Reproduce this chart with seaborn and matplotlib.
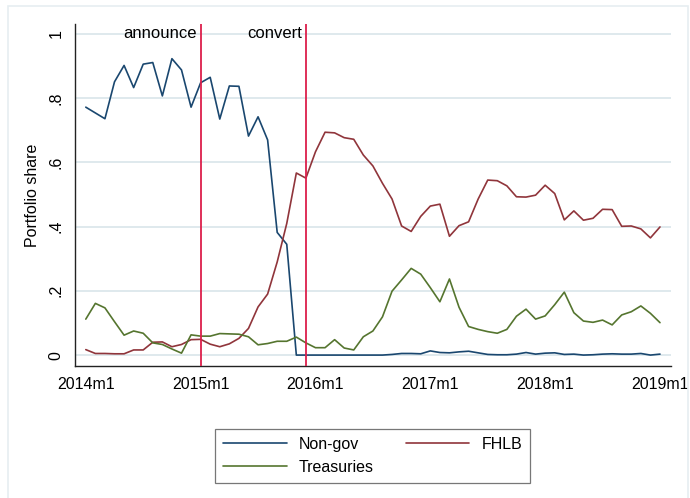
import numpy as np
import pandas as pd
import seaborn as sns
import matplotlib
matplotlib.use("Agg")
import matplotlib.pyplot as plt
from matplotlib.patches import Rectangle

# Monthly portfolio shares, 2014m1 .. 2019m1
months = pd.period_range("2014-01", "2019-01", freq="M")

non_gov = [0.772, 0.754, 0.736, 0.851, 0.902, 0.833, 0.906, 0.911, 0.807, 0.923,
           0.888, 0.772, 0.848, 0.865, 0.735, 0.838, 0.837, 0.682, 0.742, 0.670,
           0.382, 0.345, 0.000, 0.000, 0.000, 0.000, 0.000, 0.000, 0.000, 0.000,
           0.000, 0.000, 0.002, 0.005, 0.005, 0.004, 0.013, 0.008, 0.007, 0.010,
           0.012, 0.007, 0.002, 0.001, 0.001, 0.003, 0.008, 0.003, 0.006, 0.007,
           0.002, 0.003, 0.000, 0.001, 0.003, 0.004, 0.003, 0.003, 0.005, 0.000,
           0.003]

fhlb = [0.017, 0.005, 0.005, 0.004, 0.004, 0.016, 0.016, 0.040, 0.041, 0.026,
        0.033, 0.048, 0.049, 0.034, 0.026, 0.035, 0.052, 0.083, 0.150, 0.190,
        0.290, 0.410, 0.567, 0.551, 0.633, 0.694, 0.692, 0.677, 0.672, 0.623,
        0.589, 0.535, 0.486, 0.402, 0.385, 0.432, 0.464, 0.470, 0.370, 0.403,
        0.415, 0.486, 0.545, 0.543, 0.527, 0.493, 0.492, 0.498, 0.529, 0.503,
        0.421, 0.449, 0.420, 0.426, 0.454, 0.453, 0.401, 0.402, 0.393, 0.365,
        0.399]

treasuries = [0.112, 0.161, 0.147, 0.104, 0.062, 0.075, 0.068, 0.038, 0.033, 0.019,
              0.006, 0.063, 0.059, 0.059, 0.067, 0.066, 0.065, 0.057, 0.032, 0.036,
              0.043, 0.043, 0.056, 0.038, 0.023, 0.023, 0.048, 0.022, 0.016, 0.057,
              0.075, 0.119, 0.199, 0.234, 0.270, 0.252, 0.210, 0.166, 0.237, 0.149,
              0.089, 0.080, 0.073, 0.068, 0.080, 0.121, 0.143, 0.112, 0.122, 0.157,
              0.196, 0.132, 0.106, 0.102, 0.109, 0.094, 0.125, 0.135, 0.153, 0.130,
              0.101]

series_names = ["Non-gov", "FHLB", "Treasuries"]
series_colors = ["#1a476f", "#90353b", "#55752f"]

# Event dates marked with vertical lines
events = {"announce": pd.Period("2015-01", freq="M"),
          "convert": pd.Period("2015-12", freq="M")}

y_ticks = [0, 0.2, 0.4, 0.6, 0.8, 1.0]
y_tick_labels = ["0", ".2", ".4", ".6", ".8", "1"]

# month index relative to the first month
t = np.array([(m - months[0]).n for m in months])
x_ticks = [i for i, m in zip(t, months) if m.month == 1]
x_tick_labels = [f"{m.year}m{m.month}" for m in months if m.month == 1]

df = pd.DataFrame({
    "t": np.tile(t, 3),
    "share": np.concatenate([non_gov, fhlb, treasuries]),
    "series": np.repeat(series_names, len(t)),
})

sns.set_style("white")
plt.rcParams["font.family"] = ["Liberation Sans", "DejaVu Sans"]
plt.rcParams["font.size"] = 11.5
plt.rcParams["text.color"] = "black"
plt.rcParams["axes.labelcolor"] = "black"

fig = plt.figure(figsize=(6.9, 4.98), dpi=100)
ax = fig.add_axes([74.5 / 690, 1 - 366 / 498, (671 - 74.5) / 690, (366 - 24) / 498])

# outer graph-region frame
fig.patches.append(Rectangle((7.5 / 690, -0.01), (688 - 7.5) / 690, 1 - 6 / 498 + 0.01,
                             transform=fig.transFigure, fill=False,
                             edgecolor="#e6eef1", lw=1.2, zorder=0))

for yv in y_ticks:
    ax.axhline(yv, color="#dce7ec", lw=1.3, zorder=0)

sns.lineplot(data=df, x="t", y="share", hue="series", hue_order=series_names,
             palette=series_colors, linewidth=1.2, ax=ax, zorder=3)

for name, per in events.items():
    xe = (per - months[0]).n
    ax.axvline(xe, color="#dc1f4b", lw=1.3, zorder=4)
    ax.annotate(name, xy=(xe, 1.0), xytext=(-3, 0), textcoords="offset points",
                ha="right", va="center", fontsize=12)

ax.set_xlim(-1.18, 61.15)
ax.set_ylim(-0.034, 1.031)
ax.set_xticks(x_ticks)
ax.set_xticklabels(x_tick_labels)
ax.set_yticks(y_ticks)
ax.set_yticklabels(y_tick_labels, rotation=90, va="center")
ax.set_xlabel("")
ax.set_ylabel("Portfolio share", labelpad=6)

for side in ["top", "right"]:
    ax.spines[side].set_visible(False)
for side in ["left", "bottom"]:
    ax.spines[side].set_color("#222222")
    ax.spines[side].set_linewidth(1.0)
ax.tick_params(axis="both", direction="out", length=5, width=0.9, color="#555555",
               labelcolor="black", labelsize=11.5)
ax.tick_params(axis="x", pad=2, length=6)
ax.tick_params(axis="y", pad=3)

handles, labels = ax.get_legend_handles_labels()
ax.get_legend().remove()
lookup = dict(zip(labels, handles))
order = ["Non-gov", "Treasuries", "FHLB"]
leg = fig.legend([lookup[k] for k in order], order, ncol=2,
                 loc="upper center", bbox_to_anchor=(372.5 / 690, 1 - 421 / 498),
                 bbox_transform=fig.transFigure, frameon=True, fancybox=False,
                 edgecolor="#555555", handlelength=4.0, handletextpad=0.75,
                 columnspacing=2.0, labelspacing=0.5, borderpad=0.5,
                 fontsize=11.5)
leg.get_frame().set_linewidth(0.9)

fig.savefig("out.png", dpi=100)
